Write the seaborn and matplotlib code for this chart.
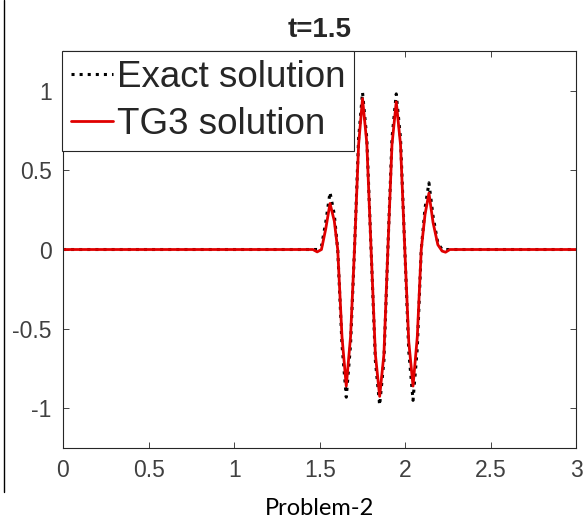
import matplotlib
matplotlib.use("Agg")
import matplotlib.pyplot as plt
import seaborn as sns
import pandas as pd
from matplotlib.lines import Line2D

# ---- data ----
x_vals = [0.00, 1.40, 1.46, 1.485, 1.51, 1.535, 1.56, 1.585, 1.605, 1.63, 1.655, 1.68,
          1.703, 1.727, 1.75, 1.775, 1.80, 1.825, 1.85, 1.875, 1.898, 1.922, 1.947,
          1.972, 1.997, 2.02, 2.045, 2.07, 2.093, 2.115, 2.138, 2.162, 2.19, 2.215,
          2.235, 2.26, 3.00]
exact_vals = [0.0, 0.0, 0.0, 0.0, 0.02, 0.17, 0.36, 0.22, 0.0, -0.60, -0.93, -0.60,
              0.0, 0.70, 0.99, 0.70, 0.0, -0.70, -0.98, -0.70, 0.0, 0.70, 0.98,
              0.70, 0.0, -0.64, -0.95, -0.62, 0.0, 0.26, 0.42, 0.21, 0.04, 0.0,
              0.0, 0.0, 0.0]
tg3_vals = [0.0, 0.0, 0.0, -0.015, 0.0, 0.13, 0.29, 0.18, 0.0, -0.55, -0.86, -0.55,
            0.0, 0.66, 0.95, 0.67, 0.0, -0.66, -0.925, -0.66, 0.0, 0.66, 0.93,
            0.66, 0.0, -0.58, -0.86, -0.55, 0.0, 0.22, 0.355, 0.17, 0.03, -0.01,
            -0.017, 0.0, 0.0]
series_labels = ["Exact solution", "TG3 solution"]
x_ticks = [0, 0.5, 1, 1.5, 2, 2.5, 3]
x_tick_labels = ["0", "0.5", "1", "1.5", "2", "2.5", "3"]
y_ticks = [-1, -0.5, 0, 0.5, 1]
y_tick_labels = ["-1", "-0.5", "0", "0.5", "1"]
title_text = "t=1.5"
caption_text = "Problem-2"

df = pd.DataFrame({"x": x_vals, "exact": exact_vals, "tg3": tg3_vals})

sns.set_style("ticks")
plt.rcParams["font.family"] = ["Liberation Sans", "DejaVu Sans"]

fig = plt.figure(figsize=(5.87, 5.27), dpi=100)
ax = fig.add_axes([0.1073, 0.1499, 0.8748, 0.7533])

sns.lineplot(data=df, x="x", y="exact", ax=ax, color="black", linestyle=":",
             linewidth=2.2, label=series_labels[0])
sns.lineplot(data=df, x="x", y="tg3", ax=ax, color="#e00000", linestyle="-",
             linewidth=2.0, label=series_labels[1])

ax.set_xlim(0, 3)
ax.set_ylim(-1.25, 1.25)
ax.set_xticks(x_ticks)
ax.set_xticklabels(x_tick_labels)
ax.set_yticks(y_ticks)
ax.set_yticklabels(y_tick_labels)
ax.set_xlabel("")
ax.set_ylabel("")
ax.tick_params(direction="in", length=4, width=0.6, colors="#262626",
               labelsize=16.5, top=True, right=True, pad=8, labelcolor="#404040")
for s in ax.spines.values():
    s.set_visible(True)
    s.set_color("#262626")
    s.set_linewidth(0.8)

ax.set_title(title_text, fontsize=20, fontweight="bold", pad=10)

leg = ax.legend(loc="upper left", bbox_to_anchor=(-0.002, 1.0), borderaxespad=0,
                fontsize=26.5, handlelength=1.15, handletextpad=0.1, borderpad=0.24,
                labelspacing=0.33, fancybox=False, framealpha=1, edgecolor="#262626")
leg.get_frame().set_linewidth(0.8)

fig.text(0.545, 0.036, caption_text, ha="center", va="center", fontsize=17,
         family=["Lato", "DejaVu Sans"], color="black")

fig.add_artist(Line2D([4 / 587, 4 / 587], [1.0, 1 - 492 / 527], transform=fig.transFigure,
                      color="black", linewidth=1.0))

fig.savefig("out.png", dpi=100)
